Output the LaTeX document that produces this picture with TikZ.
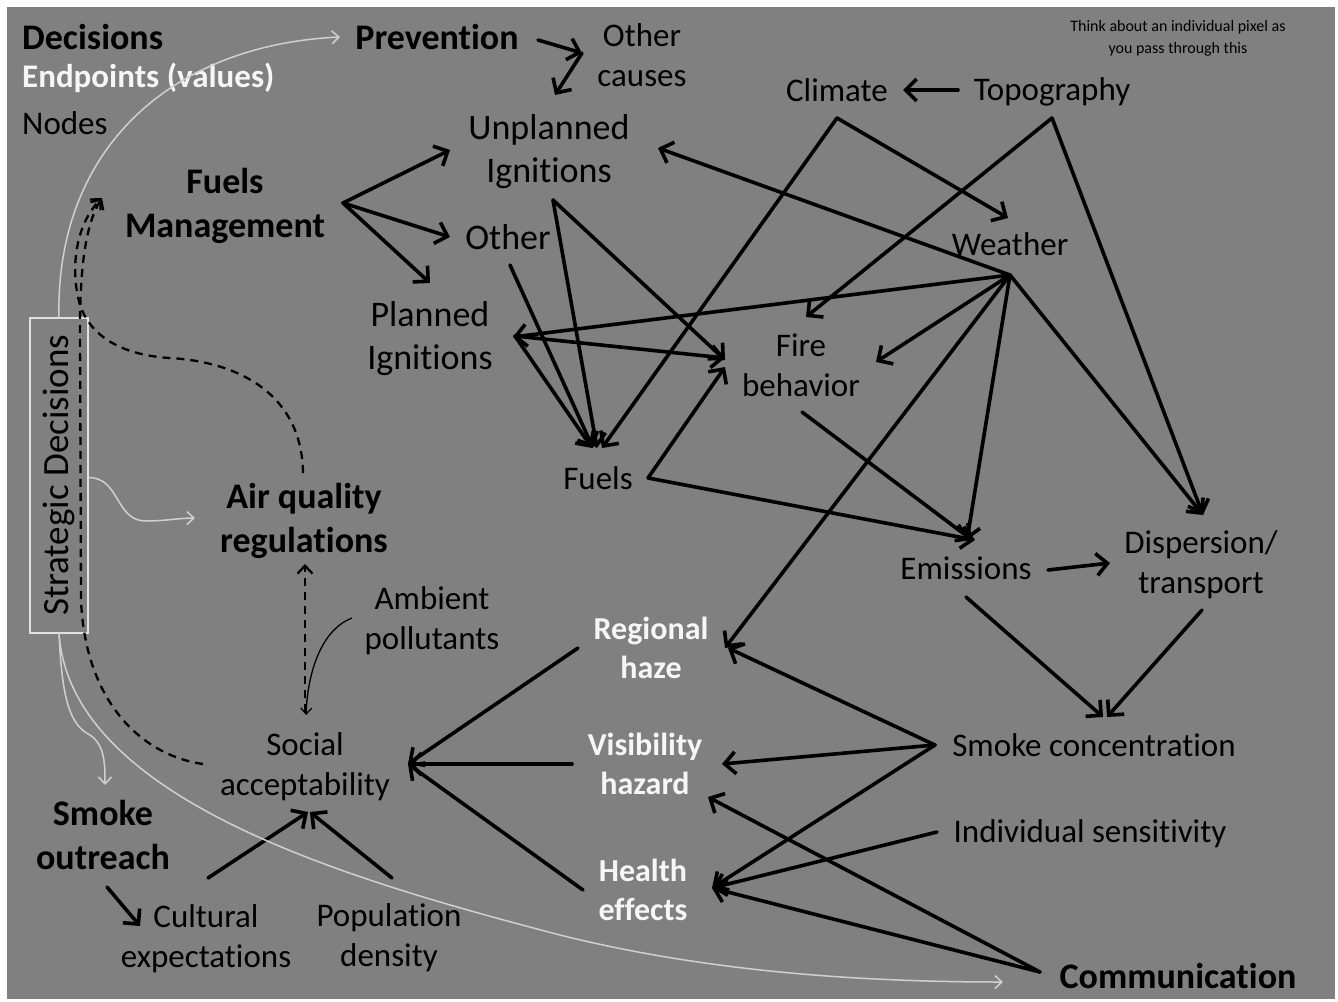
\documentclass[tikz,border=0pt]{standalone}
\usepackage{fontspec}
\setmainfont{Carlito}[Ligatures=NoCommon]
\usetikzlibrary{arrows.meta}
\definecolor{bggray}{RGB}{128,128,128}
\definecolor{endcol}{RGB}{246,246,246}
\definecolor{faint}{RGB}{208,208,208}
\definecolor{boxcol}{RGB}{225,225,225}
\begin{document}
\begin{tikzpicture}[x=1pt,y=-1pt,
  lbl/.style={inner sep=0pt, align=center, text=black, font=\fontsize{33}{40}\selectfont},
  lblL/.style={lbl, font=\fontsize{36}{43}\selectfont},
  decn/.style={inner sep=0pt, align=center, text=black, font=\fontsize{36}{44}\selectfont\bfseries},
  endpt/.style={inner sep=0pt, align=center, text=endcol, font=\fontsize{32}{39}\selectfont\bfseries},
  note/.style={inner sep=0pt, align=center, text=black, font=\fontsize{16}{22}\selectfont},
  arr/.style={draw=black, line width=3.6pt, line cap=round, line join=round,
    -{Straight Barb[length=11pt,width=22pt]}},
  dsh/.style={draw=black, line width=2.3pt, dash pattern=on 8pt off 6pt,
    -{Straight Barb[length=8pt,width=15pt]}},
  thinarr/.style={draw=black, line width=1.3pt, -{Straight Barb[length=6pt,width=11pt]}},
  lt/.style={draw=faint, line width=1.5pt, -{Straight Barb[length=7pt,width=13pt]}}
]
\useasboundingbox (0,0) rectangle (1338,1001);
\fill[white] (0,0) rectangle (1338,1001);
\fill[bggray] (7,7) rectangle (1335,999);

% legend
\node[decn, anchor=west] (dec) at (22,37) {Decisions};
\node[endpt, font=\fontsize{33}{40}\selectfont\bfseries, anchor=west] (endp) at (22,78) {Endpoints (values)};
\node[lbl, anchor=west] (nodes) at (22,123) {Nodes};

% nodes
\node[decn] (prev) at (437,37) {Prevention};
\node[lbl] (oc) at (642,55) {Other\\causes};
\node[lblL] (unpl) at (549,152) {Unplanned\\Ignitions};
\node[lbl] (clim) at (837,90) {Climate};
\node[lbl] (topo) at (1052,92) {Topography};
\node[note] (think) at (1178,38) {Think about an individual pixel as\\you pass through this};
\node[decn] (fm) at (225,206) {Fuels\\Management};
\node[lblL] (oth) at (508,237) {Other};
\node[lbl] (wea) at (1010,244) {Weather};
\node[lblL] (plan) at (430,339) {Planned\\Ignitions};
\node[lbl] (fire) at (801,365) {Fire\\behavior};
\node[lbl] (fuels) at (598,478) {Fuels};
\node[lbl, font=\fontsize{37}{44}\selectfont, rotate=90, draw=boxcol, line width=1.2pt,
      minimum width=315pt, minimum height=58pt] (strat) at (59,475.5) {Strategic Decisions};
\node[decn] (aq) at (304,521) {Air quality\\regulations};
\node[lbl] (emis) at (966,568) {Emissions};
\node[lbl] (disp) at (1201,565) {Dispersion/\\transport};
\node[lbl] (amb) at (432,621) {Ambient\\pollutants};
\node[endpt] (haze) at (651,648) {Regional\\haze};
\node[lbl] (soc) at (305,767) {Social\\acceptability};
\node[endpt] (vis) at (645,764) {Visibility\\hazard};
\node[lbl] (smoke) at (1094,745) {Smoke concentration};
\node[decn] (so) at (103,835) {Smoke\\outreach};
\node[lbl] (indiv) at (1090,834) {Individual sensitivity};
\node[endpt] (health) at (643,890) {Health\\effects};
\node[lbl] (cult) at (206,939) {Cultural\\expectations};
\node[lbl] (pop) at (389,938) {Population\\density};
\node[decn] (comm) at (1178,976) {Communication};

% influence arrows
\draw[arr] ([shift={(101,3)}]prev.center) -- ([shift={(-60,-2)}]oc.center);
\draw[arr] ([shift={(-60,-2)}]oc.center) -- ([shift={(6,-57)}]unpl.center);
\draw[arr] ([shift={(118,-3)}]fm.center) -- ([shift={(-99,-2)}]unpl.center);
\draw[arr] ([shift={(118,-3)}]fm.center) -- ([shift={(-58,0)}]oth.center);
\draw[arr] ([shift={(118,-3)}]fm.center) -- ([shift={(0,-56)}]plan.center);
\draw[arr] ([shift={(4,48)}]unpl.center) -- ([shift={(-1,-30)}]fuels.center);
\draw[arr] ([shift={(4,48)}]unpl.center) -- ([shift={(-76,-5)}]fire.center);
\draw[arr] ([shift={(2,28)}]oth.center) -- ([shift={(-5,-30)}]fuels.center);
\draw[arr] ([shift={(85,-3)}]plan.center) -- ([shift={(-6,-30)}]fuels.center);
\draw[arr] ([shift={(85,-3)}]plan.center) -- ([shift={(-76,-7)}]fire.center);
\draw[arr] ([shift={(0,31)}]wea.center) -- ([shift={(83,-2)}]plan.center);
\draw[arr] ([shift={(0,28)}]clim.center) -- ([shift={(4,-30)}]fuels.center);
\draw[arr] ([shift={(0,28)}]clim.center) -- ([shift={(-2,-26)}]wea.center);
\draw[arr] ([shift={(0,26)}]topo.center) -- ([shift={(5,-48)}]fire.center);
\draw[arr] ([shift={(0,26)}]topo.center) -- ([shift={(2,-50)}]disp.center);
\draw[arr] ([shift={(-94,-2)}]topo.center) -- ([shift={(66,0)}]clim.center);
\draw[arr] ([shift={(0,31)}]wea.center) -- ([shift={(109,-4)}]unpl.center);
\draw[arr] ([shift={(0,31)}]wea.center) -- ([shift={(75,-3)}]fire.center);
\draw[arr] ([shift={(0,31)}]wea.center) -- ([shift={(74,0)}]haze.center);
\draw[arr] ([shift={(0,31)}]wea.center) -- ([shift={(1,-28)}]emis.center);
\draw[arr] ([shift={(0,31)}]wea.center) -- ([shift={(2,-50)}]disp.center);
\draw[arr] ([shift={(50,0)}]fuels.center) -- ([shift={(-76,2)}]fire.center);
\draw[arr] ([shift={(50,0)}]fuels.center) -- ([shift={(9,-28)}]emis.center);
\draw[arr] ([shift={(1,47)}]fire.center) -- ([shift={(6,-28)}]emis.center);
\draw[arr] ([shift={(82,2)}]emis.center) -- ([shift={(-91,-2)}]disp.center);
\draw[arr] ([shift={(0,29)}]emis.center) -- ([shift={(9,-28)}]smoke.center);
\draw[arr] ([shift={(1,45)}]disp.center) -- ([shift={(13,-28)}]smoke.center);
\draw[arr] ([shift={(-159,0)}]smoke.center) -- ([shift={(77,0)}]haze.center);
\draw[arr] ([shift={(-159,0)}]smoke.center) -- ([shift={(77,0)}]vis.center);
\draw[arr] ([shift={(-159,0)}]smoke.center) -- ([shift={(69,-2)}]health.center);
\draw[arr] ([shift={(-153,-2)}]indiv.center) -- ([shift={(69,-2)}]health.center);
\draw[arr] ([shift={(-138,-4)}]comm.center) -- ([shift={(63,33)}]vis.center);
\draw[arr] ([shift={(-138,-4)}]comm.center) -- ([shift={(69,-2)}]health.center);
\draw[arr] ([shift={(-73,0)}]haze.center) -- ([shift={(103,-3)}]soc.center);
\draw[arr] ([shift={(-73,0)}]vis.center) -- ([shift={(103,-3)}]soc.center);
\draw[arr] ([shift={(-60,0)}]health.center) -- ([shift={(103,-3)}]soc.center);
\draw[arr] ([shift={(2,-61)}]cult.center) -- ([shift={(3,45)}]soc.center);
\draw[arr] ([shift={(3,-60)}]pop.center) -- ([shift={(5,45)}]soc.center);
\draw[arr] ([shift={(4,52)}]so.center) -- ([shift={(-66,-13)}]cult.center);

% feedback to decisions (dashed)
\draw[dsh] ([shift={(0,-55)}]soc.center) -- ([shift={(1,43)}]aq.center);
\draw[dsh] ([shift={(-1,-48)}]aq.center) .. controls (302,395) and (240,362) .. (170,358)
  .. controls (120,355) and (90,335) .. (80,305)
  .. controls (70,270) and (75,225) .. ([shift={(-123,-8)}]fm.center);
\draw[dsh] ([shift={(-102,-3)}]soc.center) .. controls (140,755) and (85,700) .. (81,600)
  -- (80,330) .. controls (80,270) and (85,225) .. ([shift={(-123,-8)}]fm.center);
\draw[thinarr] ([shift={(-80,-3)}]amb.center) .. controls (325,628) and (308,665) .. ([shift={(1,-52)}]soc.center);

% strategic decisions links
\draw[lt] ([shift={(0,-157.5)}]strat.center) .. controls (55,150) and (170,45) .. ([shift={(-97,0)}]prev.center);
\draw[lt] ([shift={(30,2)}]strat.center) .. controls (120,478) and (115,520) .. (145,521)
  .. controls (165,521) and (180,518) .. ([shift={(-109,-3)}]aq.center);
\draw[lt] ([shift={(0,157.5)}]strat.center) .. controls (62,700) and (70,725) .. (90,735)
  .. controls (105,745) and (105,765) .. ([shift={(2,-50)}]so.center);
\draw[lt] ([shift={(0,157.5)}]strat.center) .. controls (70,800) and (350,880) .. (560,935)
  .. controls (700,970) and (850,982) .. ([shift={(-175,6)}]comm.center);
\end{tikzpicture}
\end{document}
